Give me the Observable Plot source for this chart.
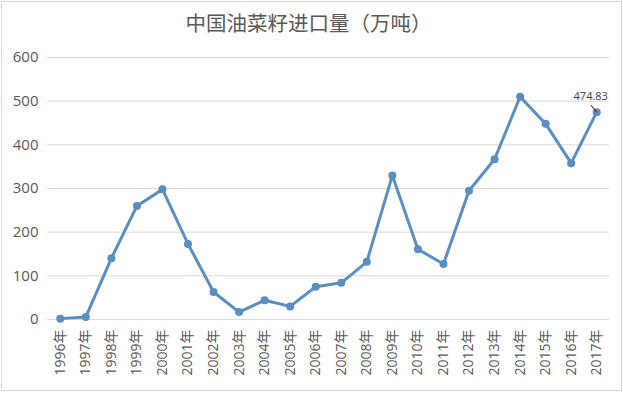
<!DOCTYPE html>
<html><head><meta charset="utf-8">
<script src="https://cdn.jsdelivr.net/npm/d3@7"></script>
<script src="https://cdn.jsdelivr.net/npm/@observablehq/plot@0.6"></script>
<style>
body{margin:0;background:#fff;}
#wrap{position:relative;width:623px;height:393px;overflow:hidden;background:#fff;}
#title{height:44px;line-height:44px;text-align:center;font-family:"Noto Sans CJK SC";font-size:20.5px;color:#595959;padding-right:6px;}
#frame{position:absolute;left:1px;top:1px;width:619px;height:388px;border:1px solid #d9d9d9;pointer-events:none;}
</style></head>
<body>
<div id="wrap">
<div id="title">中国油菜籽进口量（万吨）</div>
<div id="chart"></div>
<div id="frame"></div>
</div>
<script>
const years = ["1996年","1997年","1998年","1999年","2000年","2001年","2002年","2003年","2004年","2005年","2006年","2007年","2008年","2009年","2010年","2011年","2012年","2013年","2014年","2015年","2016年","2017年"];
const imports = [2, 6, 140, 260, 298, 173, 63, 17, 44, 30, 75, 84, 132, 330, 161, 127, 295, 367, 510, 448, 358, 474.83];
const yTicks = [0, 100, 200, 300, 400, 500, 600];
const annotatedLabel = "474.83";

const data = years.map((y, i) => ({year: y, value: imports[i]}));
const last = [data[data.length - 1]];
const lineColor = "#5b8ec1";

const leader = {
  draw(context, l) {
    context.moveTo(0, 0);
    context.lineTo(0, -l);
  }
};

const chart = Plot.plot({
  width: 623,
  height: 349,
  marginTop: 13,
  marginBottom: 74,
  marginLeft: 47,
  marginRight: 14,
  style: {fontFamily: "'Open Sans', 'Noto Sans CJK SC', sans-serif", color: "#595959", background: "transparent"},
  x: {type: "point", domain: years, padding: 0.5, round: false},
  y: {domain: [0, 600]},
  marks: [
    Plot.ruleY(yTicks, {stroke: "#d9d9d9", strokeWidth: 1}),
    Plot.axisY({ticks: yTicks, tickSize: 0, tickPadding: 9, fontSize: 15, label: null}),
    Plot.axisX({tickRotate: -90, tickSize: 0, tickPadding: 10, fontSize: 14, label: null}),
    Plot.line(data, {x: "year", y: "value", stroke: lineColor, strokeWidth: 3}),
    Plot.dot(data, {x: "year", y: "value", r: 4, fill: lineColor}),
    Plot.vector(last, {x: "year", y: "value", rotate: -40, length: 9, anchor: "start", shape: leader, stroke: "#303030", strokeWidth: 1}),
    Plot.text(last, {x: "year", y: "value", text: () => annotatedLabel, dx: -6, dy: -16, fontSize: 11, fill: "#404040"})
  ]
});
document.getElementById("chart").appendChild(chart);
</script>
</body></html>
